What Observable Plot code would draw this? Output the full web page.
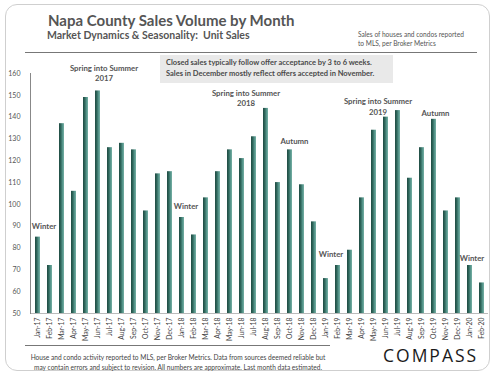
<!DOCTYPE html>
<html>
<head>
<meta charset="utf-8">
<script src="https://cdn.jsdelivr.net/npm/d3@7"></script>
<script src="https://cdn.jsdelivr.net/npm/@observablehq/plot@0.6"></script>
<style>
  html, body { margin: 0; padding: 0; background: #fff; }
  body { width: 500px; height: 375px; position: relative; overflow: hidden; font-family: Lato, "Open Sans", sans-serif; }
  .frame { position: absolute; left: 5px; top: 4px; width: 485px; height: 367px; border: 1px solid #cfcfcf; border-radius: 12px; box-sizing: border-box; }
  .title { position: absolute; left: 48px; top: 11px; font-size: 15px; font-weight: 700; color: #555; white-space: nowrap; }
  .subtitle { position: absolute; left: 47px; top: 29px; font-size: 10.5px; font-weight: 700; color: #555; white-space: nowrap; }
  .note { position: absolute; left: 358px; top: 30px; font-size: 6.6px; color: #555; line-height: 9px; white-space: nowrap; }
  .hline { position: absolute; height: 1px; background: #777; }
  .box { position: absolute; left: 160px; top: 55px; width: 233px; height: 28px; background: #e9e9e9; font-size: 7.5px; font-weight: 700; color: #4a4a4a; line-height: 11px; box-sizing: border-box; padding: 2px 0 0 6px; white-space: nowrap; }
  #chart { position: absolute; left: 0; top: 56px; }
  .foot { position: absolute; left: 25px; top: 352px; width: 306px; text-align: center; font-size: 6.6px; color: #444; line-height: 10px; white-space: nowrap; }
  .logo { position: absolute; left: 383px; top: 343px; font-size: 17.5px; letter-spacing: 2px; color: #1a1a1a; font-family: "Open Sans", Lato, sans-serif; }
</style>
</head>
<body>
<div class="frame"></div>
<div class="title">Napa County Sales Volume by Month</div>
<div class="subtitle">Market Dynamics &amp; Seasonality:&nbsp; Unit Sales</div>
<div class="note">Sales of houses and condos reported<br>to MLS, per Broker Metrics</div>
<div class="hline" style="left:25px; top:52px; width:452px;"></div>
<div class="box">Closed sales typically follow offer acceptance by 3 to 6 weeks.<br>Sales in December mostly reflect offers accepted in November.</div>
<div id="chart"></div>
<div class="hline" style="left:25px; top:345px; width:305px;"></div>
<div class="foot">House and condo activity reported to MLS, per Broker Metrics. Data from sources deemed reliable but<br>may contain errors and subject to revision. All numbers are approximate. Last month data estimated.</div>
<div class="logo">COMPASS</div>
<script>
const months = ["Jan-17","Feb-17","Mar-17","Apr-17","May-17","Jun-17","Jul-17","Aug-17","Sep-17","Oct-17","Nov-17","Dec-17",
  "Jan-18","Feb-18","Mar-18","Apr-18","May-18","Jun-18","Jul-18","Aug-18","Sep-18","Oct-18","Nov-18","Dec-18",
  "Jan-19","Feb-19","Mar-19","Apr-19","May-19","Jun-19","Jul-19","Aug-19","Sep-19","Oct-19","Nov-19","Dec-19",
  "Jan-20","Feb-20"];
const sales = [85,72,137,106,149,152,126,128,125,97,114,115,
  94,86,103,115,125,121,131,144,110,125,109,92,
  66,72,79,103,134,140,143,112,126,139,97,103,
  72,64];
const yTicks = [50,60,70,80,90,100,110,120,130,140,150,160];

const noteLabels = ["Winter","Spring into Summer\n2017","Winter","Spring into Summer\n2018","Autumn","Winter","Spring into Summer\n2019","Autumn","Winter"];
const noteMonths = ["Jan-17","Jun-17","Jan-18","Jun-18","Oct-18","Jan-19","May-19","Oct-19","Jan-20"];
const noteValues = [90,160.5,99.5,149,129,77.5,145,142,75.5];
const noteShift = [6,6,4,4,4.5,5,4,1.5,2];

const data = months.map((m, i) => ({month: m, value: sales[i]}));
const notes = noteLabels.map((t, i) => ({text: t, month: noteMonths[i], value: noteValues[i], shift: noteShift[i]}));

const chart = Plot.plot({
  width: 500,
  height: 294,
  marginTop: 17,
  marginBottom: 37,
  marginLeft: 30,
  marginRight: 12,
  style: {fontFamily: "Lato, 'Open Sans', sans-serif", background: "transparent"},
  x: {domain: months, paddingInner: 0.6, paddingOuter: 0.21, label: null, tickSize: 0, tickRotate: -90, tickPadding: 4},
  y: {domain: [50, 160], ticks: yTicks, label: null, tickSize: 0, tickPadding: 10},
  marks: [
    Plot.ruleY([50], {stroke: "#bbb", strokeWidth: 1}),
    Plot.frame({anchor: "left", stroke: "#888"}),
    Plot.barY(data, {x: "month", y1: 50, y2: "value", fill: "url(#barGrad)"}),
    ...notes.map(n => Plot.text([n], {x: "month", y: "value", text: "text", dx: n.shift, fill: "#555", fontSize: 7.8, fontWeight: 700, lineHeight: 1.3})),
    Plot.axisY({ticks: yTicks, tickSize: 0, tickPadding: 10, fontSize: 7, fill: "#555", textAnchor: "end", label: null}),
    Plot.axisX({tickSize: 0, tickRotate: -90, tickPadding: 4, fontSize: 6.8, fill: "#444", label: null})
  ]
});

const ns = "http://www.w3.org/2000/svg";
const defs = document.createElementNS(ns, "defs");
const grad = document.createElementNS(ns, "linearGradient");
grad.setAttribute("id", "barGrad");
grad.setAttribute("x1", "0"); grad.setAttribute("x2", "1");
grad.setAttribute("y1", "0"); grad.setAttribute("y2", "0");
[["0%","#1f4a42"],["35%","#2f665b"],["70%","#55948a"],["100%","#78b1a5"]].forEach(([o,c]) => {
  const s = document.createElementNS(ns, "stop");
  s.setAttribute("offset", o); s.setAttribute("stop-color", c);
  grad.appendChild(s);
});
defs.appendChild(grad);
chart.insertBefore(defs, chart.firstChild);
document.getElementById("chart").appendChild(chart);
</script>
</body>
</html>
